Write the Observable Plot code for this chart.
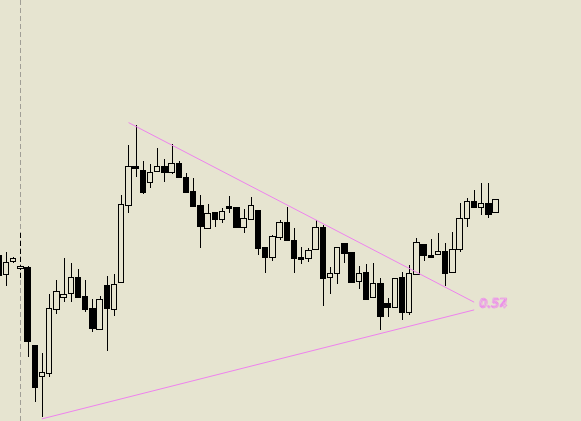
<!DOCTYPE html>
<html>
<head>
<meta charset="utf-8">
<script src="https://cdn.jsdelivr.net/npm/d3@7"></script>
<script src="https://cdn.jsdelivr.net/npm/@observablehq/plot@0.6"></script>
<style>
  html, body { margin: 0; padding: 0; background: #e6e4d0; }
  #chart svg { display: block; }
</style>
</head>
<body>
<div id="chart"></div>
<script>
// Bar index (time position) of each candle
const barIndex = d3.range(-1, 69);
// Prices (chart units)
const open  = [166,147,160,153,154, 76, 45, 48,112,124,128,144,125,113, 92,136,112,139,216,255,251,239,250,255,249,258,244,230,216,193,209,202,215,214,194,202,211,174,164,184,199,181,164,163,172,194,144,148,178,169,140,149,124,138,118,114,144,109,147,177,166,167,170,149,172,203,220,214,218,209];
const high  = [166,169,164,190,155, 76, 68,127,141,163,158,152,141,122,125,145,147,226,276,296,260,257,273,262,277,260,248,243,226,217,209,213,225,214,212,224,211,174,186,201,214,193,174,173,201,196,154,174,178,169,155,157,158,143,123,143,149,156,183,177,182,188,178,189,218,223,231,238,238,222];
const low   = [146,135,158,143, 64, 19,  4, 44,107,119,119,124,109, 89, 92, 70,105,139,208,244,227,233,250,239,247,244,229,215,173,193,194,198,208,193,188,202,166,148,160,181,181,148,157,159,172,115,127,137,158,139,132,122,124, 91,104,114,101,106,147,160,164,167,135,149,169,194,214,206,203,209];
const close = [146,159,163,155, 80, 34, 49,113,130,127,144,124,112, 93,122,113,137,217,255,253,229,249,255,249,258,244,229,215,195,208,202,210,213,194,203,216,173,164,185,199,181,163,162,171,194,143,148,174,168,139,148,122,138,105,114,143,109,148,179,166,164,170,148,172,203,220,214,218,207,222];

// Dashed vertical marker line position (bar index)
const markerBar = [2];
// Trend lines (bar index, price)
const upperTrendX = [17, 64.9];
const upperTrendP = [298.7, 119.5];
const lowerTrendX = [4.96, 64.9];
const lowerTrendP = [2.7, 111.5];
// Level labels at the apex
const levelLabels = ["0.57", "0.54"];
const labelX = [65.6, 65.75];
const labelP = [115, 114];

const bg = "#e6e4d0";
const pink = "#ee82ee";

const candles = barIndex.map((i, k) => ({i, open: open[k], high: high[k], low: low[k], close: close[k]}));
const upper = upperTrendX.map((x, k) => ({i: x, p: upperTrendP[k]}));
const lower = lowerTrendX.map((x, k) => ({i: x, p: lowerTrendP[k]}));
const labels = levelLabels.map((t, k) => ({t, i: labelX[k], p: labelP[k]}));

const half = 0.37;

const chart = Plot.plot({
  width: 581,
  height: 421,
  margin: 0,
  style: {background: bg, overflow: "hidden"},
  x: {type: "linear", domain: [-6 / 7.2, 575 / 7.2], range: [0, 581], axis: null},
  y: {type: "linear", domain: [0, 421], range: [421, 0], axis: null},
  marks: [
    Plot.ruleX(markerBar, {x: d => d, stroke: "#a09e96", strokeDasharray: "5,3", shapeRendering: "crispEdges"}),
    Plot.ruleX(candles.filter(d => !markerBar.includes(d.i)), {x: "i", y1: "low", y2: "high", stroke: "black", shapeRendering: "crispEdges"}),
    Plot.ruleX(candles.filter(d => markerBar.includes(d.i)), {x: "i", y1: "low", y2: "high", stroke: "black", strokeDasharray: "5,3", shapeRendering: "crispEdges"}),
    Plot.rect(candles.filter(d => d.close >= d.open), {x1: d => d.i - half, x2: d => d.i + half, y1: "open", y2: "close", fill: bg, stroke: "black", shapeRendering: "crispEdges"}),
    Plot.rect(candles.filter(d => d.close < d.open), {x1: d => d.i - half, x2: d => d.i + half, y1: "open", y2: "close", fill: "black", stroke: "black", shapeRendering: "crispEdges"}),
    Plot.line(upper, {x: "i", y: "p", stroke: pink, strokeWidth: 1}),
    Plot.line(lower, {x: "i", y: "p", stroke: pink, strokeWidth: 1}),
    Plot.text(labels, {x: "i", y: "p", text: "t", textAnchor: "start", lineAnchor: "bottom", fontStyle: "italic", fontSize: 12.5, fontFamily: "DejaVu Sans", fill: "none", stroke: pink, strokeWidth: 0.5})
  ]
});
document.getElementById("chart").appendChild(chart);
</script>
</body>
</html>
